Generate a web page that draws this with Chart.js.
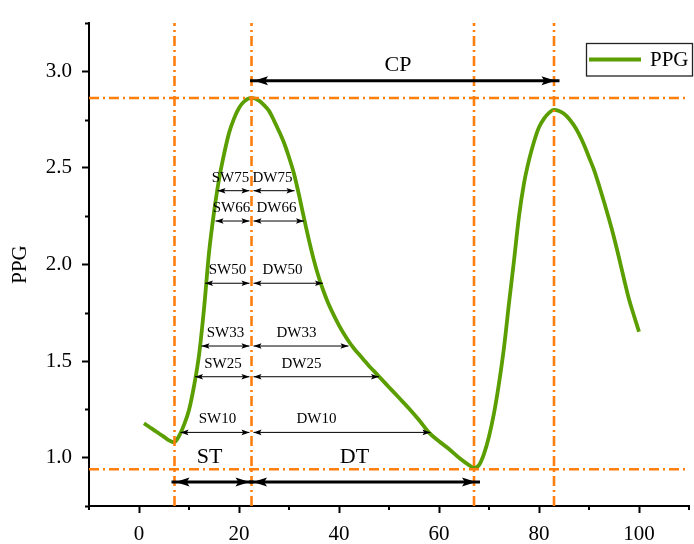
<!DOCTYPE html>
<html>
<head>
<meta charset="utf-8">
<script src="https://cdn.jsdelivr.net/npm/chart.js@4.4.1/dist/chart.umd.min.js"></script>
<style>
  html, body { margin: 0; padding: 0; background: #ffffff; }
  #wrap { width: 694px; height: 544px; position: relative; }
</style>
</head>
<body>
<div id="wrap"><canvas id="c" width="694" height="544"></canvas></div>
<script>
// ---- Data ----
const ppgX = [1, 2, 3, 4, 5, 6, 7, 8, 9, 10, 11, 12, 13, 14, 15, 16, 17, 18, 19, 20, 21, 22.5,
  24, 25, 26, 27, 28, 29, 30, 31, 32, 33, 34, 35, 36, 37, 38, 39, 40, 41, 42, 43, 44, 45, 46, 47, 48,
  50, 52, 54, 56, 58, 60, 62, 64, 66, 67, 68, 69, 70, 71, 72, 73, 74, 75, 76, 77, 78, 79, 80, 81, 82, 83,
  84, 85, 86, 87, 88, 89, 90, 91, 92, 93, 94, 95, 96, 97, 98, 99, 100];
const ppgY = [1.178, 1.16, 1.143, 1.125, 1.108, 1.09, 1.08, 1.112, 1.17, 1.247, 1.37, 1.53, 1.77, 2.06, 2.27, 2.44, 2.57, 2.68, 2.755, 2.81, 2.843, 2.862,
  2.848, 2.825, 2.795, 2.745, 2.69, 2.63, 2.555, 2.47, 2.36, 2.24, 2.125, 2.02, 1.93, 1.855, 1.79, 1.735, 1.685, 1.64, 1.60, 1.565, 1.535, 1.505, 1.475, 1.448, 1.42,
  1.365, 1.31, 1.255, 1.195, 1.13, 1.085, 1.045, 1.0, 0.962, 0.948, 0.962, 1.02, 1.11, 1.23, 1.385, 1.57, 1.80, 2.02, 2.25, 2.42, 2.54, 2.635, 2.71, 2.755, 2.785, 2.80,
  2.795, 2.78, 2.755, 2.72, 2.675, 2.62, 2.555, 2.49, 2.41, 2.325, 2.235, 2.14, 2.035, 1.925, 1.82, 1.735, 1.652];

const refVerticalX = [7.1, 22.5, 67.0, 83.0];
const refHorizontalY = [2.862, 0.94];

const xTicks = [0, 20, 40, 60, 80, 100];
const yTicks = [1.0, 1.5, 2.0, 2.5, 3.0];

// width markers
const levelNames = ['10', '25', '33', '50', '66', '75'];
const levelY = [1.131, 1.419, 1.578, 1.903, 2.225, 2.382];
const swFrom = [8.3, 11.2, 12.5, 13.2, 15.3, 15.7];
const swTo = [22.1, 22.1, 22.1, 22.1, 22.1, 22.1];
const dwFrom = [22.9, 22.9, 22.9, 22.9, 22.9, 22.9];
const dwTo = [58.3, 48.0, 41.9, 36.8, 33.0, 31.1];
const swLabelX = [15.7, 16.8, 17.3, 17.7, 18.5, 18.3];
const dwLabelX = [35.5, 32.5, 31.5, 28.7, 27.5, 26.7];

// time intervals
const intervalNames = ['CP', 'ST', 'DT'];
const intervalY = [2.951, 0.874, 0.874];
const intervalFrom = [23.0, 7.3, 22.8];
const intervalTo = [83.3, 22.1, 67.4];
const intervalLabelX = [51.8, 14.1, 43.1];
const intervalLabelY = [3.033, 1.0, 1.005];

// ---- Styles ----
const GREEN = '#5a9e00';
const ORANGE = '#ff7f0e';
const SERIF = "'Liberation Serif', 'Times New Roman', serif";

const datasets = [];
datasets.push({
  label: 'PPG',
  data: ppgX.map((x, i) => ({ x: x, y: ppgY[i] })),
  borderColor: GREEN,
  backgroundColor: GREEN,
  borderWidth: 3.8,
  pointRadius: 0,
  cubicInterpolationMode: 'monotone',
  order: 2
});
refVerticalX.forEach(v => datasets.push({
  label: 'ref',
  data: [{ x: v, y: 0.75 }, { x: v, y: 3.25 }],
  borderColor: ORANGE, borderWidth: 2.6, borderDash: [10, 4, 2, 4],
  pointRadius: 0, order: 1
}));
refHorizontalY.forEach(v => datasets.push({
  label: 'ref',
  data: [{ x: -10, y: v }, { x: 110, y: v }],
  borderColor: ORANGE, borderWidth: 2.6, borderDash: [10, 4, 2, 4],
  pointRadius: 0, order: 1
}));

function isMult(v, m) { return Math.abs(v / m - Math.round(v / m)) < 1e-6; }

function arrowHead(ctx, tipX, y, dir, len, half) {
  ctx.beginPath();
  ctx.moveTo(tipX, y);
  ctx.lineTo(tipX - dir * len, y - half);
  ctx.lineTo(tipX - dir * len * 0.8, y);
  ctx.lineTo(tipX - dir * len, y + half);
  ctx.closePath();
  ctx.fill();
}
function doubleArrow(ctx, x1, x2, y, lw, len, half, ext) {
  ctx.save();
  ctx.strokeStyle = '#000'; ctx.fillStyle = '#000'; ctx.lineWidth = lw;
  ctx.beginPath();
  ctx.moveTo(x1 - ext, y); ctx.lineTo(x2 + ext, y);
  ctx.stroke();
  arrowHead(ctx, x1, y, -1, len, half);
  arrowHead(ctx, x2, y, 1, len, half);
  ctx.restore();
}

const annotPlugin = {
  id: 'annot',
  afterDatasetsDraw(chart) {
    const ctx = chart.ctx, xs = chart.scales.x, ys = chart.scales.y;
    ctx.save();
    ctx.font = '15px ' + SERIF;
    ctx.fillStyle = '#000';
    ctx.textAlign = 'center';
    ctx.textBaseline = 'middle';
    levelNames.forEach((n, i) => {
      const py = ys.getPixelForValue(levelY[i]);
      doubleArrow(ctx, xs.getPixelForValue(swFrom[i]), xs.getPixelForValue(swTo[i]), py, 1, 8, 2.8, 0);
      doubleArrow(ctx, xs.getPixelForValue(dwFrom[i]), xs.getPixelForValue(dwTo[i]), py, 1, 8, 2.8, 0);
      ctx.fillText('SW' + n, xs.getPixelForValue(swLabelX[i]), py - 13);
      ctx.fillText('DW' + n, xs.getPixelForValue(dwLabelX[i]), py - 13);
    });
    ctx.font = '22px ' + SERIF;
    intervalNames.forEach((n, i) => {
      const py = ys.getPixelForValue(intervalY[i]);
      doubleArrow(ctx, xs.getPixelForValue(intervalFrom[i]), xs.getPixelForValue(intervalTo[i]), py, 3, 14, 4.5, 4);
      ctx.fillText(n, xs.getPixelForValue(intervalLabelX[i]), ys.getPixelForValue(intervalLabelY[i]));
    });
    ctx.restore();
  },
  afterDraw(chart) {
    const ctx = chart.ctx, xs = chart.scales.x, ys = chart.scales.y;
    ctx.save();
    ctx.strokeStyle = '#000'; ctx.lineWidth = 2;
    ys.ticks.forEach(t => {
      if (!isMult(t.value, 0.5)) {
        const py = Math.round(ys.getPixelForValue(t.value)) + 0.5;
        ctx.beginPath(); ctx.moveTo(xs.left - 4, py); ctx.lineTo(xs.left, py); ctx.stroke();
      }
    });
    xs.ticks.forEach(t => {
      if (!isMult(t.value, 20)) {
        const px = Math.round(xs.getPixelForValue(t.value));
        ctx.beginPath(); ctx.moveTo(px, ys.bottom); ctx.lineTo(px, ys.bottom + 4); ctx.stroke();
      }
    });
    // legend
    ctx.fillStyle = '#fff';
    ctx.fillRect(586, 43, 106, 33);
    ctx.strokeStyle = '#222'; ctx.lineWidth = 1.3;
    ctx.strokeRect(586.5, 43.5, 106, 32.5);
    ctx.strokeStyle = GREEN; ctx.lineWidth = 3.8;
    ctx.beginPath(); ctx.moveTo(589, 59.5); ctx.lineTo(641, 59.5); ctx.stroke();
    ctx.fillStyle = '#000';
    ctx.font = '21px ' + SERIF;
    ctx.textAlign = 'left'; ctx.textBaseline = 'middle';
    ctx.fillText('PPG', 650, 60);
    ctx.restore();
  }
};

new Chart(document.getElementById('c'), {
  type: 'line',
  data: { datasets: datasets },
  options: {
    responsive: false,
    animation: false,
    devicePixelRatio: 1,
    layout: { padding: { left: 0, right: 5, top: 23, bottom: 0 } },
    plugins: { legend: { display: false }, tooltip: { enabled: false } },
    scales: {
      x: {
        type: 'linear', min: -10, max: 110,
        afterFit(s) { s.height = 38; s.paddingLeft = 0; s.paddingRight = 0; },
        border: { color: '#000', width: 2 },
        grid: {
          drawOnChartArea: false, tickLength: 7, tickWidth: 2,
          tickColor: c => (c.tick && isMult(c.tick.value, 20)) ? '#000' : 'rgba(0,0,0,0)'
        },
        ticks: {
          stepSize: 10, autoSkip: false, maxRotation: 0, padding: 9,
          color: '#000', font: { family: SERIF, size: 21 },
          callback: v => xTicks.includes(v) ? String(v) : ''
        }
      },
      y: {
        type: 'linear', min: 0.75, max: 3.25,
        afterFit(s) { s.width = 89; },
        border: { color: '#000', width: 2 },
        grid: {
          drawOnChartArea: false, tickLength: 7, tickWidth: 2,
          tickColor: c => (c.tick && isMult(c.tick.value, 0.5)) ? '#000' : 'rgba(0,0,0,0)'
        },
        ticks: {
          stepSize: 0.25, autoSkip: false, padding: 10,
          color: '#000', font: { family: SERIF, size: 21 },
          callback: v => yTicks.some(t => Math.abs(t - v) < 1e-6) ? v.toFixed(1) : ''
        },
        title: { display: true, text: 'PPG', color: '#000', font: { family: SERIF, size: 21 }, padding: { top: 8, bottom: 0 } }
      }
    }
  },
  plugins: [annotPlugin]
});
</script>
</body>
</html>
